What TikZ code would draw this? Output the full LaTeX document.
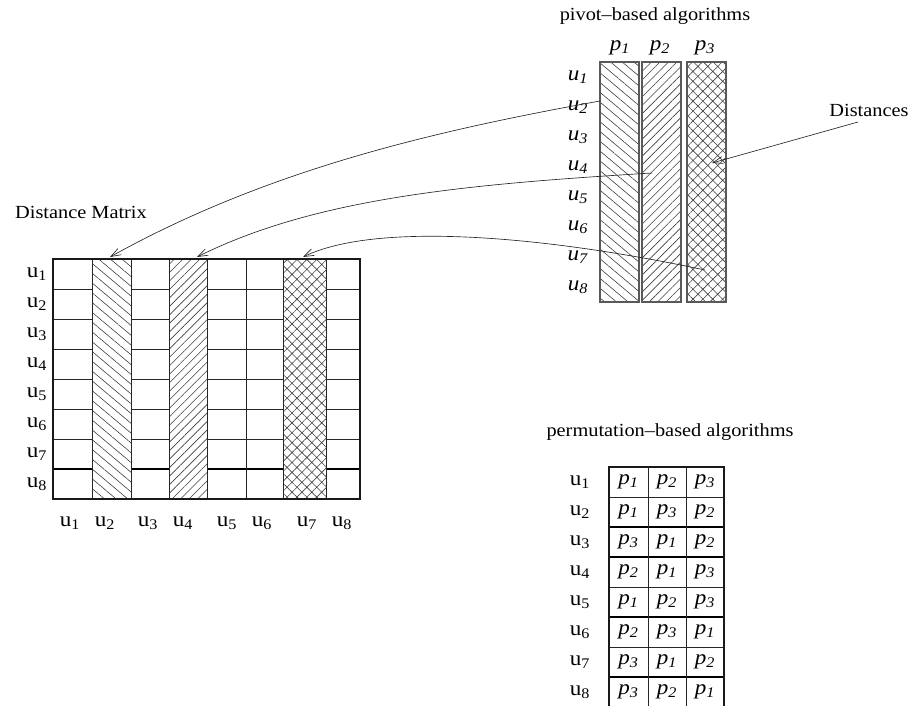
\documentclass[tikz,border=0pt]{standalone}
\usepackage{fontspec}
\setmainfont[FakeStretch=1.1]{Liberation Serif}
\usetikzlibrary{patterns.meta,arrows.meta}

% upright and italic labels with subscripts
\newcommand{\ulab}[1]{u\textsubscript{#1}}
\newcommand{\ilab}[2]{\textit{#1}\textsubscript{\textit{#2}}}

\tikzset{
  title/.style={font=\fontsize{18.5}{20}\selectfont, inner sep=0pt},
  lab/.style={font=\fontsize{21}{22}\selectfont, inner sep=0pt},
  grid line/.style={draw=black!85, line width=0.8pt},
  heavy line/.style={draw=black, line width=1.2pt},
  frame/.style={draw=black!90, line width=1.1pt},
  pivot frame/.style={draw=black!65, line width=1.4pt},
  hatch a/.style={pattern={Lines[angle=-40,distance=7.5pt,line width=0.6pt]}, pattern color=black!75},
  hatch b/.style={pattern={Lines[angle=45,distance=6pt,line width=0.6pt]}, pattern color=black!75},
  hatch c/.style={pattern={Hatch[angle=45,distance=7pt,line width=0.6pt]}, pattern color=black!75},
  link/.style={draw=black!85, line width=0.65pt, -{Straight Barb[length=10pt,width=7pt]}},
}

\begin{document}
\begin{tikzpicture}[x=1pt,y=-1pt]
\useasboundingbox (0,0) rectangle (913,705);
\clip (0,0) rectangle (913,705);

% ---------------- distance matrix ----------------
\node[title] (dmtitle) at (81,212) {Distance Matrix};

% horizontal row lines
\foreach \r in {1,...,6} {
  \draw[grid line] (53,259+30*\r) -- (360,259+30*\r);
}
\draw[heavy line] (53,469) -- (360,469);
% hatched columns (u2, u4, u7)
\fill[white] (92,259) rectangle (131,499);
\fill[white] (169,259) rectangle (207,499);
\fill[white] (283,259) rectangle (326,499);
\path[hatch a] (92,259) rectangle (131,499);
\path[hatch b] (169,259) rectangle (207,499);
\path[hatch c] (283,259) rectangle (326,499);
% vertical lines
\foreach \x in {92,131,169,207,246,283,326} {
  \draw[grid line] (\x,259) -- (\x,499);
}
\draw[frame] (53,259) rectangle (360,499);

% row labels
\foreach \i in {1,...,8} {
  \node[lab] (mr\i) at (37,274+30*\i-30) {\ulab{\i}};
}
% column labels
\foreach \x [count=\i] in {70,105,148,183,227,262,307,342} {
  \node[lab] (mc\i) at (\x,523) {\ulab{\i}};
}

% ---------------- pivot-based ----------------
\node[title] (pvtitle) at (655,16) {pivot--based algorithms};
\fill[white] (600,62) rectangle (639,302);
\fill[white] (642,62) rectangle (681,302);
\fill[white] (687,62) rectangle (726,302);
\path[hatch a] (600,62) rectangle (639,302);
\path[hatch b] (642,62) rectangle (681,302);
\path[hatch c] (687,62) rectangle (726,302);
\draw[pivot frame] (600,62) rectangle (639,302);
\draw[pivot frame] (642,62) rectangle (681,302);
\draw[pivot frame] (687,62) rectangle (726,302);

\node[lab] (pv1) at (620,48) {\ilab{p}{1}};
\node[lab] (pv2) at (660,48) {\ilab{p}{2}};
\node[lab] (pv3) at (705,48) {\ilab{p}{3}};
\foreach \i in {1,...,8} {
  \node[lab] (pu\i) at (578,77+30*\i-30) {\ilab{u}{\i}};
}

\node[title] (dist) at (869,110) {Distances};

% ---------------- permutation-based ----------------
\node[title] (pmtitle) at (670,432) {permutation--based algorithms};
\foreach \r in {1,4,6} {
  \draw[grid line] (609,467+30*\r) -- (724,467+30*\r);
}
\foreach \r in {2,3,5,7} {
  \draw[heavy line] (609,467+30*\r) -- (724,467+30*\r);
}
\foreach \x in {648,686} {
  \draw[grid line] (\x,467) -- (\x,707);
}
\draw[frame] (609,467) rectangle (724,707);

\foreach \a/\b/\c [count=\i] in {1/2/3,1/3/2,3/1/2,2/1/3,1/2/3,2/3/1,3/1/2,3/2/1} {
  \node[lab] (pmu\i) at (580,482+30*\i-30) {\ulab{\i}};
  \node[lab] (pma\i) at (628.5,482+30*\i-30) {\ilab{p}{\a}};
  \node[lab] (pmb\i) at (667,482+30*\i-30) {\ilab{p}{\b}};
  \node[lab] (pmc\i) at (705,482+30*\i-30) {\ilab{p}{\c}};
}

% ---------------- connectors ----------------
\coordinate (s1) at (600,101);
\coordinate (t1) at (110,257);
\coordinate (s2) at (652,173);
\coordinate (t2) at (197,257);
\coordinate (s3) at (705,270);
\coordinate (t3) at (303,257);
\coordinate (s4) at (858,122);
\coordinate (t4) at (712,163);

\draw[link] (s1) .. controls (440,130) and (270,168) .. (t1);
\draw[link] (s2) .. controls (472,184) and (317,197) .. (t2);
\draw[link] (s3) .. controls (540,235) and (375,222) .. (t3);
\draw[link] (s4) -- (t4);
\end{tikzpicture}
\end{document}
